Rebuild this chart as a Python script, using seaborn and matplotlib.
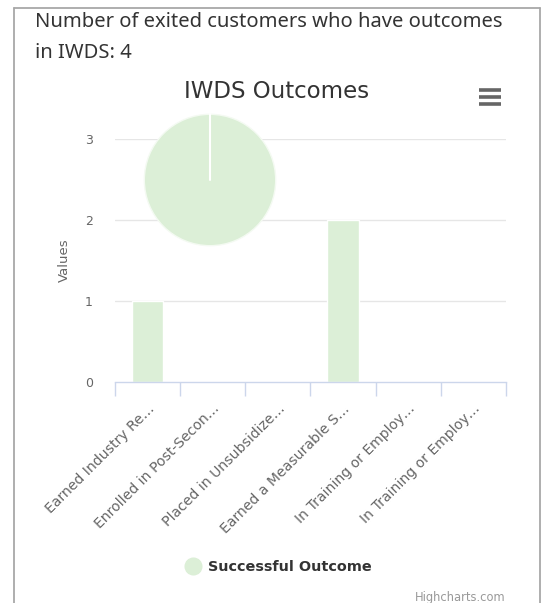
import matplotlib
matplotlib.use("Agg")
import matplotlib.pyplot as plt
from matplotlib.lines import Line2D
import seaborn as sns
import pandas as pd
import numpy as np

# ---- data ----
categories = ["Earned Industry Re…", "Enrolled in Post-Secon…", "Placed in Unsubsidize…",
              "Earned a Measurable S…", "In Training or Employ…", "In Training or Employ…"]
values = [1, 0, 0, 2, 0, 0]
pie_values = [4]
series_name = "Successful Outcome"
header_lines = ["Number of exited customers who have outcomes", "in IWDS: 4"]
chart_title = "IWDS Outcomes"
y_ticks = [0, 1, 2, 3]

GREEN = "#dcefd7"
W, H = 545, 603

sns.set_theme(style="white")
plt.rcParams["font.family"] = ["DejaVu Sans"]

fig = plt.figure(figsize=(W / 100, H / 100), dpi=100)

def px(x0, y_top, w, h):
    return [x0 / W, 1 - (y_top + h) / H, w / W, h / H]

# ---- bar axes ----
ax = fig.add_axes(px(115, 139, 391, 243))
df = pd.DataFrame({"key": list(range(len(categories))), "value": values})
sns.barplot(data=df, x="key", y="value", color=GREEN, saturation=1, width=0.48,
            ax=ax, order=list(range(len(categories))))
ax.set_xlim(-0.5, len(categories) - 0.5)
ax.set_ylim(0, 3)
ax.set_yticks(y_ticks)
ax.set_yticklabels([str(t) for t in y_ticks], color="#666666", fontsize=9)
for t in y_ticks[1:]:
    ax.axhline(t, color="#e6e6e6", lw=1, zorder=0)
for s in ["top", "right", "left"]:
    ax.spines[s].set_visible(False)
ax.spines["bottom"].set_color("#ccd6eb")
ax.spines["bottom"].set_linewidth(1)
ax.tick_params(axis="y", length=0, pad=16)
# category boundary ticks
ax.set_xticks(np.arange(-0.5, len(categories), 1.0), minor=True)
ax.tick_params(axis="x", which="minor", length=10, width=1, color="#ccd6eb", direction="out", bottom=True)
ax.set_xticks(range(len(categories)))
ax.set_xticklabels(categories, rotation=45, ha="right", va="top", rotation_mode="anchor",
                   color="#666666", fontsize=10.1)
ax.tick_params(axis="x", which="major", length=0, pad=14)
ax.set_xlabel("")
ax.set_ylabel("Values", color="#666666", fontsize=9.5, labelpad=10)

# ---- pie axes ----
r = 67
pax = fig.add_axes(px(210 - r, 180 - r, 2 * r, 2 * r))
pax.pie(pie_values, colors=[GREEN], startangle=90, counterclock=False,
        wedgeprops=dict(edgecolor="#f4faf2", linewidth=1))
pax.plot([0, 0], [0, 1], color="white", lw=1.5)
pax.set_xlim(-1.02, 1.02)
pax.set_ylim(-1.02, 1.02)
pax.set_aspect("equal")
pax.axis("off")

# ---- texts ----
for i, line in enumerate(header_lines):
    fig.text(35 / W, 1 - (22 + 31 * i) / H, line, fontsize=14.5, color="#333333", va="center",
             ha="left", family=["Noto Sans", "DejaVu Sans"])
fig.text(277 / W, 1 - 92 / H, chart_title, fontsize=16.5, color="#333333", ha="center", va="center")
fig.text(505 / W, 1 - 597 / H, "Highcharts.com", fontsize=8.3, color="#999999", ha="right", va="center")

# legend
leg_handle = Line2D([], [], marker="o", color="none", markerfacecolor=GREEN,
                    markeredgecolor=GREEN, markersize=12)
leg = fig.legend([leg_handle], [series_name], loc="center", bbox_to_anchor=(278 / W, 1 - 567 / H),
                 frameon=False, handletextpad=0.5, handlelength=1.2, prop=dict(weight="bold", size=10.4))
for t in leg.get_texts():
    t.set_color("#333333")

# hamburger menu icon
for yy in [90, 97, 104]:
    fig.add_artist(Line2D([479 / W, 501 / W], [1 - yy / H, 1 - yy / H], color="#666666",
                          lw=2.6, solid_capstyle="butt"))

# outer border
bc = "#a8a8a8"
fig.add_artist(Line2D([13.5 / W, 13.5 / W], [0, 1 - 7.5 / H], color=bc, lw=1.3))
fig.add_artist(Line2D([539.5 / W, 539.5 / W], [0, 1 - 7.5 / H], color=bc, lw=1.3))
fig.add_artist(Line2D([13.5 / W, 539.5 / W], [1 - 7.5 / H, 1 - 7.5 / H], color=bc, lw=1.3))

fig.savefig("out.png", dpi=100, facecolor="white")
